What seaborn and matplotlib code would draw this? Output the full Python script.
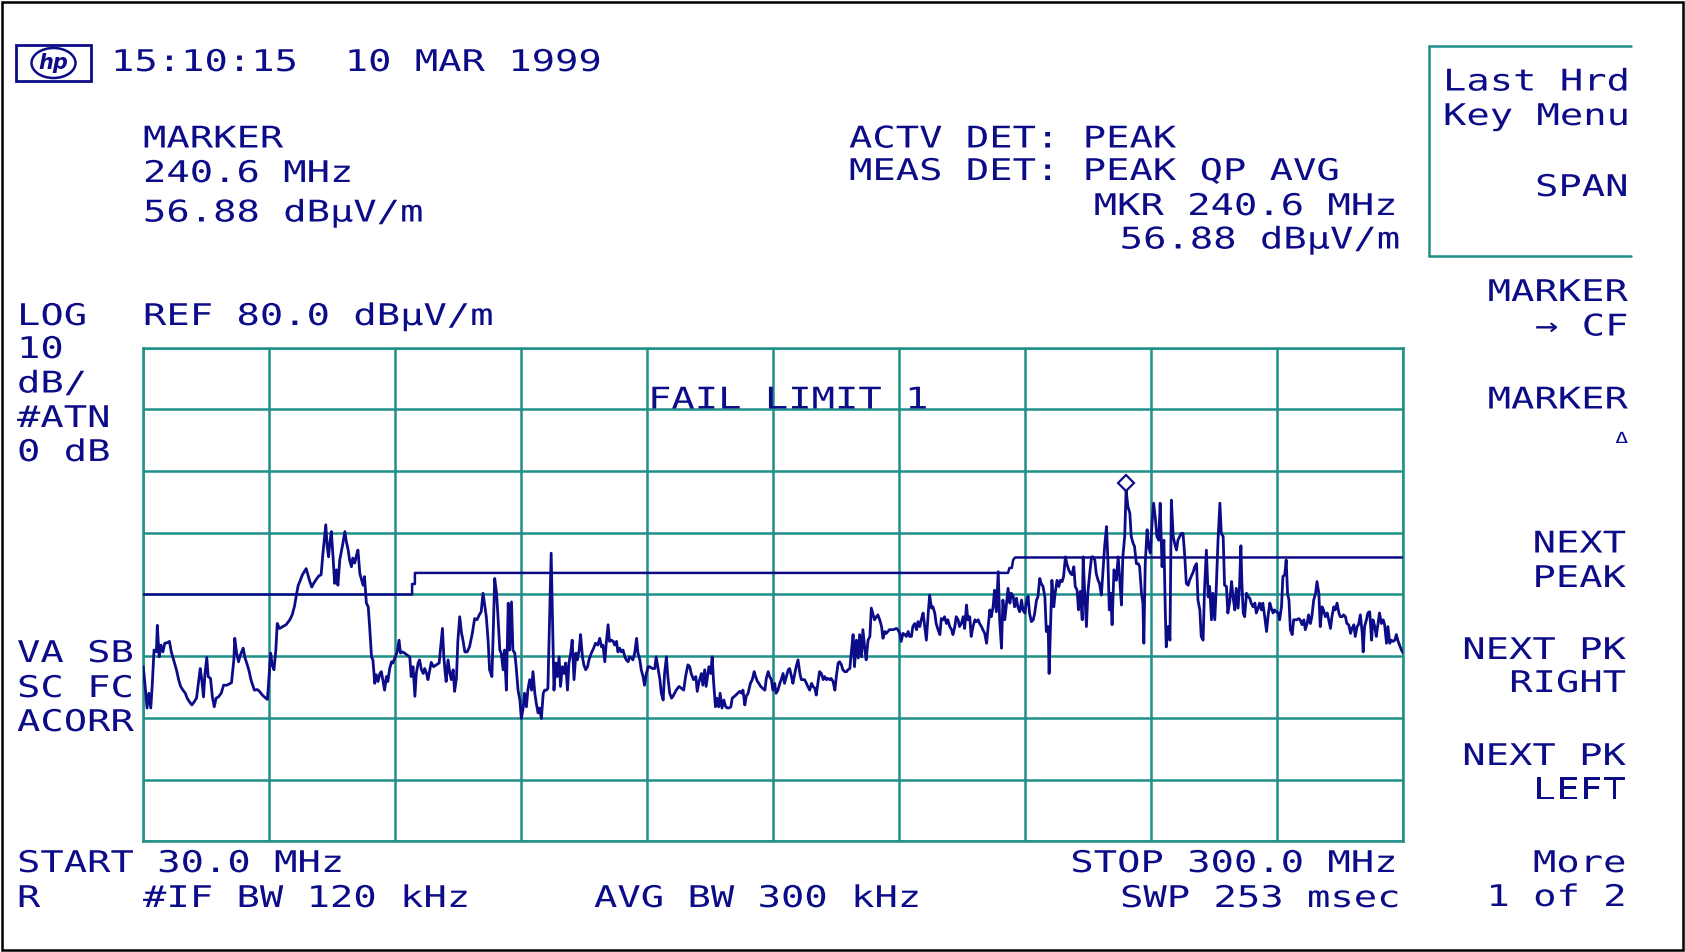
import numpy as np
import pandas as pd
import matplotlib
matplotlib.use("Agg")
import matplotlib.pyplot as plt
import seaborn as sns
from matplotlib.patheffects import AbstractPathEffect
from matplotlib.transforms import Affine2D, offset_copy
from matplotlib.lines import Line2D
from matplotlib.patches import Rectangle, Ellipse

start_mhz, stop_mhz = 30.0, 300.0
ref_level, db_per_div, n_div = 80.0, 10.0, 8

trace_freq = [
    30.0, 30.4, 30.8, 31.2, 31.6, 31.9, 32.3, 32.8, 33.0, 33.4,
    33.8, 34.2, 34.6, 35.2, 35.6, 36.0, 36.5, 37.1, 37.6, 38.0,
    38.5, 39.0, 39.4, 39.9, 40.4, 40.9, 41.4, 41.8, 42.2, 42.5,
    42.9, 43.2, 43.6, 43.9, 44.4, 44.8, 45.2, 45.6, 46.1, 46.7,
    47.2, 47.9, 48.9, 49.4, 49.6, 50.0, 50.4, 50.8, 51.4, 51.8,
    52.2, 52.6, 53.1, 53.8, 54.4, 54.9, 55.5, 56.1, 56.6, 57.0,
    57.3, 57.6, 58.0, 58.4, 58.7, 59.2, 59.9, 60.6, 61.4, 61.9,
    62.4, 62.8, 63.2, 63.6, 64.1, 64.5, 64.9, 65.2, 65.6, 66.1,
    66.5, 67.1, 67.6, 68.1,
    68.5, 69.1, 69.4, 69.7, 70.0, 70.3, 70.7, 71.0, 71.4, 71.7,
    72.1, 72.7, 73.2, 73.5, 73.9, 74.2, 74.6, 74.9, 75.3, 75.7,
    76.0, 76.4, 76.7, 77.1, 77.4, 77.8, 78.2, 78.5, 78.9, 79.2,
    79.6, 79.9, 80.3, 80.7, 81.0, 81.4, 81.7, 82.1, 82.4, 82.8,
    83.2, 83.5, 84.0, 84.4, 84.8, 85.1, 85.5, 86.0, 86.5, 87.1,
    87.4, 87.8, 88.2, 88.5, 88.9, 89.2, 89.6, 90.0, 90.3, 90.7,
    91.0, 91.4, 91.7, 92.2, 92.8, 93.4, 93.7, 94.1, 94.4, 94.7,
    94.9, 95.3, 95.7, 96.0, 96.4, 96.7, 97.1, 97.4, 97.8, 98.2,
    98.5, 98.9, 99.4, 99.9, 100.5, 101.0, 101.5, 102.0, 102.4, 102.8,
    103.2, 103.5, 103.9, 104.2, 104.7, 105.0, 105.3, 105.7, 106.0, 106.4,
    106.7, 107.1, 107.4, 107.8, 108.2, 108.5, 108.9, 109.2, 109.6, 109.9,
    110.3, 110.7, 111.0, 111.4, 111.7, 112.1, 112.4, 112.8, 113.2, 113.5,
    113.9, 114.2, 114.6, 114.9, 115.3, 115.7, 116.0, 116.4, 116.7, 117.1,
    117.4, 117.7, 118.0, 118.4, 118.7, 119.1, 119.4, 119.8, 120.2, 120.5,
    120.9, 121.2, 121.6, 121.9, 122.3, 122.7, 123.0, 123.4, 123.7, 124.1,
    124.4, 124.8, 125.2, 125.5, 126.0, 126.5, 126.9, 127.4, 127.8, 128.2,
    128.5, 128.9, 129.2, 129.6, 129.9, 130.3, 130.7, 131.0, 131.4, 131.7,
    132.1, 132.4, 132.8, 133.2, 133.5, 133.9, 134.2, 134.6, 134.9, 135.3,
    135.7, 136.0, 136.4, 136.7, 137.1, 137.4, 137.8, 138.2, 138.5, 139.1,
    139.6, 139.9, 140.3, 140.7, 141.0, 141.4, 141.7, 142.1, 142.4, 142.8,
    143.2, 143.5, 144.2,
    144.8, 145.3, 145.8, 146.2, 146.7, 147.1, 147.4, 147.9, 148.4, 148.7,
    149.1, 149.6, 149.9, 150.3, 150.6, 151.2, 151.6, 151.9, 152.2, 152.6,
    152.9, 153.3, 153.6, 154.0, 154.4, 154.8, 155.2, 155.5, 155.9, 156.2,
    156.7, 157.4, 157.8, 158.2, 158.5, 158.9, 159.2, 159.6, 160.1, 160.5,
    160.9, 161.2, 161.6, 161.9, 162.3, 162.7, 163.2, 163.5, 163.9, 164.2,
    164.6, 164.9, 165.3, 165.6, 166.0, 166.4, 166.7, 167.1, 167.4, 167.8,
    168.2, 168.5, 168.9, 169.2, 169.6, 169.9, 170.3, 170.7, 171.0, 171.4,
    171.7, 172.1, 172.4, 172.8, 173.2, 173.5, 173.9, 174.2, 174.6, 174.9,
    175.3, 175.7, 176.0, 176.4, 176.7, 177.1, 177.4, 177.8, 178.2, 178.5,
    178.9, 179.2, 179.6, 179.9, 180.3, 180.7, 181.0, 181.4, 181.7, 182.1,
    182.4, 182.8, 183.2, 183.5,
    183.9, 184.2, 184.6, 184.9, 185.3, 185.7, 186.0, 186.4, 186.7, 187.1,
    187.4, 187.8, 188.2, 188.5, 188.9, 189.2, 189.9, 190.7, 191.4, 191.7,
    192.1, 192.4, 192.8, 193.2, 193.5, 193.9, 194.2, 194.6, 194.9, 195.3,
    195.7, 196.0, 196.4, 196.7, 197.1, 197.4, 197.8, 198.2, 198.5, 198.9,
    199.2, 199.6, 199.9, 200.3, 200.7, 201.0, 201.4, 201.7, 202.1, 202.4,
    202.8, 203.2, 203.5, 203.9, 204.2, 204.6, 204.9, 205.3, 205.7, 206.0,
    206.4, 206.7, 207.1, 207.4, 207.8, 208.2, 208.5, 208.9, 209.2, 209.6,
    209.9, 210.3, 210.7, 211.0, 211.4, 211.7, 212.1, 212.4, 212.8, 213.2,
    213.5, 213.9, 214.2, 214.6, 214.9, 215.3, 215.7, 216.0, 216.4, 216.7,
    217.1, 217.4, 217.8, 218.2, 218.5, 218.9, 219.2, 219.6, 219.9, 220.3,
    220.7, 221.0, 221.4, 221.7, 222.1, 222.4, 222.8, 223.2, 223.5, 223.9,
    224.1, 224.4, 224.7, 225.1, 225.4, 225.8, 226.2, 226.5, 226.9, 227.2,
    227.6, 227.9, 228.3, 228.7, 229.0, 229.4, 229.7, 230.1, 230.4, 230.8,
    231.2, 231.4, 231.7, 232.1, 232.4, 232.8, 233.2, 233.5, 233.9, 234.2,
    234.6, 234.9, 235.3, 235.7, 236.0, 236.4, 236.7, 237.0, 237.3, 237.6,
    238.0, 238.3, 238.5, 238.9, 239.2, 239.6, 239.9, 240.3, 240.6, 241.0,
    241.4, 241.7, 242.1, 242.4, 242.8, 243.2, 243.5, 243.9, 244.2, 244.4,
    244.7, 245.1, 245.4, 245.8, 246.2, 246.5, 246.9, 247.2, 247.6, 247.9,
    248.3, 248.7, 249.0, 249.2, 249.6, 250.0, 250.3, 250.7, 251.0, 251.4,
    251.7, 252.1, 252.4, 252.8, 253.2, 253.5, 253.9, 254.2, 255.0, 255.3,
    255.7, 256.0, 256.4, 256.7, 257.1, 257.4, 257.8, 258.2, 258.5, 258.9,
    259.2, 259.6, 259.9, 260.3, 260.7,
    261.0, 261.4, 261.7, 262.1, 262.4, 262.8, 263.2, 263.5, 263.9, 264.2,
    264.6, 264.9, 265.2, 265.4, 265.7, 266.0, 266.4, 266.7, 267.1, 267.4,
    267.8, 268.2, 268.5, 268.9, 269.2, 269.6, 269.9, 270.3, 270.7, 271.0,
    271.4, 271.7, 272.1, 272.4, 272.8, 273.2, 273.5, 273.9, 274.2, 274.6,
    274.9, 275.2, 275.5, 275.8, 276.2, 276.5, 276.9, 277.2, 277.6, 277.9,
    278.3, 278.7, 279.0, 279.4, 279.7, 280.1, 280.4, 280.8, 281.2, 281.5,
    281.9, 282.2, 282.6, 282.9, 283.3, 283.7, 284.0, 284.4, 284.7, 285.1,
    285.4, 285.8, 286.2, 286.5, 286.9, 287.2, 287.6, 287.9, 288.3, 288.7,
    289.0, 289.4, 289.7, 290.1, 290.4, 290.8, 291.2, 291.4, 291.7, 292.1,
    292.4, 292.8, 293.2, 293.5, 293.9, 294.2, 294.6, 294.9, 295.3, 295.7,
    296.0, 296.4, 296.7, 297.1, 297.4, 297.8, 298.2, 298.5, 298.9, 299.2,
    299.6, 300.0,
]

trace_level = [
    28.3, 25.1, 21.6, 24.0, 21.6, 25.1, 31.0, 30.7, 35.0, 29.9,
    31.8, 30.7, 32.1, 32.2, 32.4, 30.7, 29.4, 27.8, 26.1, 25.1,
    24.5, 24.0, 23.2, 22.6, 22.1, 22.6, 23.2, 25.6, 28.0, 26.4,
    23.4, 27.0, 29.8, 26.7, 26.4, 23.4, 21.8, 23.2, 23.4, 24.0,
    25.3, 25.3, 25.7, 29.4, 32.9, 30.5, 29.1, 30.2, 31.3, 29.7,
    28.8, 27.8, 26.1, 24.5, 24.6, 24.3, 23.7, 23.3, 23.0, 27.2,
    30.5, 28.6, 27.8, 31.0, 35.3, 34.5, 34.8, 35.1, 35.9, 36.7,
    38.1, 39.9, 41.5, 42.2, 43.2, 43.7, 44.2, 43.4, 42.3, 41.2,
    41.8, 42.5, 43.0, 43.2,
    46.7, 51.3, 47.8, 46.1, 48.6, 50.2, 45.6, 41.8, 44.0, 41.5,
    45.6, 48.0, 50.2, 48.6, 47.2, 45.6, 44.5, 45.9, 45.1, 46.4,
    47.2, 43.4, 42.6, 41.5, 42.9, 38.6, 38.0, 34.8, 29.9, 29.4,
    25.6, 27.0, 25.9, 27.2, 27.5, 25.9, 24.5, 26.7, 25.9, 28.0,
    29.1, 28.9, 29.9, 30.7, 32.6, 30.5, 30.7, 30.5, 30.2, 29.9,
    26.7, 28.3, 23.5, 27.2, 28.9, 29.4, 27.8, 27.2, 28.0, 27.2,
    26.2, 27.8, 29.0, 28.3, 28.6, 28.9, 31.3, 34.5, 29.9, 27.2,
    25.9, 29.4, 27.2, 26.2, 27.8, 24.3, 26.4, 32.4, 36.4, 33.7,
    32.6, 30.7, 30.7, 31.5, 33.7, 36.1, 35.9, 36.7, 37.2, 40.2,
    38.0, 36.4, 32.4, 27.8, 26.7, 34.3, 42.6, 40.2, 36.4, 31.0,
    30.5, 27.8, 31.0, 24.5, 38.6, 31.0, 38.8, 31.0, 30.5, 28.3,
    24.5, 22.9, 19.9, 21.6, 24.0, 21.8, 24.5, 26.2, 24.5, 27.5,
    24.0, 22.4, 20.8, 21.6, 19.9, 24.0, 24.5, 24.5, 24.8, 37.0,
    46.7, 35.3, 24.5, 28.9, 26.7, 29.9, 25.1, 28.3, 27.2, 28.9,
    24.5, 28.9, 30.5, 32.6, 26.2, 30.5, 29.4, 31.0, 33.5, 29.9,
    28.6, 27.8, 28.3, 29.4, 30.5, 31.3, 32.1, 31.8, 32.9, 31.5,
    31.8, 29.1, 32.1, 35.1, 32.4, 32.6, 32.4, 31.8, 32.4, 30.7,
    31.3, 30.7, 31.0, 29.9, 29.4, 29.1, 29.9, 29.7, 29.4, 30.5,
    32.9, 30.5, 29.4, 27.8, 26.7, 25.3, 27.2, 28.3, 28.3, 28.0,
    28.0, 29.9, 28.0, 26.2, 24.0, 22.9, 27.2, 29.9, 26.7, 24.0,
    23.2, 23.5, 24.5,
    25.1, 24.8, 24.5, 26.7, 28.6, 28.3, 27.2, 26.2, 26.7, 24.3,
    25.9, 27.2, 25.3, 27.8, 25.1, 28.3, 27.2, 29.9, 25.9, 21.8,
    23.2, 21.8, 24.0, 21.6, 22.9, 21.8, 21.6, 21.6, 21.8, 23.2,
    23.5, 24.0, 24.3, 24.0, 24.5, 22.1, 23.5, 24.0, 25.6, 26.2,
    27.5, 26.7, 25.9, 25.6, 25.1, 24.8, 24.5, 26.4, 27.5, 26.7,
    26.2, 24.5, 25.6, 24.0, 24.5, 25.6, 26.2, 27.2, 25.6, 26.7,
    27.8, 28.0, 26.7, 25.6, 27.2, 28.3, 29.4, 27.2, 26.2, 26.2,
    26.2, 25.6, 25.1, 24.5, 25.6, 25.1, 24.8, 23.7, 25.9, 27.5,
    27.2, 26.2, 26.7, 26.2, 26.4, 26.2, 26.4, 25.9, 24.5, 26.7,
    28.9, 29.1, 28.6, 27.8, 27.5, 27.5, 27.8, 28.0, 30.5, 33.5,
    28.3, 32.6, 29.7, 33.5,
    29.9, 34.3, 31.3, 29.4, 32.6, 33.2, 37.8, 36.7, 35.9, 36.4,
    36.7, 35.9, 34.8, 32.9, 34.0, 33.7, 34.3, 34.3, 34.5, 34.3,
    33.7, 32.4, 33.7, 33.5, 33.2, 34.0, 33.2, 33.2, 34.8, 35.3,
    34.3, 35.6, 34.8, 35.9, 37.0, 35.1, 32.6, 37.0, 39.9, 37.8,
    38.0, 37.0, 35.3, 34.3, 33.5, 36.1, 35.9, 36.4, 35.3, 35.9,
    34.8, 34.3, 33.5, 34.8, 36.4, 35.9, 34.8, 35.3, 36.4, 34.5,
    38.3, 35.9, 36.4, 33.2, 34.8, 35.9, 35.6, 35.9, 35.3, 34.8,
    34.3, 33.7, 32.1, 34.5, 37.5, 36.4, 38.0, 40.7, 37.2, 43.7,
    35.9, 31.3, 39.1, 35.9, 38.0, 41.0, 38.6, 40.2, 39.7, 38.0,
    39.4, 38.0, 37.2, 39.1, 37.5, 37.0, 38.6, 39.7, 37.0, 35.6,
    35.9, 36.9, 39.1, 39.6, 42.6, 41.8, 41.3, 39.6, 34.0, 34.8,
    27.2, 34.8, 42.3, 38.0, 40.2, 42.3, 41.3, 42.3, 42.1, 42.9,
    46.1, 45.0, 44.0, 43.4, 43.2, 44.5, 41.3, 40.7, 37.5, 40.5,
    35.9, 46.1, 40.7, 34.8, 40.2, 43.4, 46.1, 46.1, 45.6, 43.4,
    42.3, 41.8, 39.9, 44.5, 47.8, 51.0, 45.6, 37.5, 40.2, 35.1,
    44.0, 43.4, 42.3, 46.1, 42.9, 38.3, 46.1, 49.4, 56.9, 54.2,
    53.2, 49.4, 48.3, 47.8, 45.0, 45.0, 44.5, 40.2, 38.6, 32.1,
    45.0, 50.5, 47.8, 46.7, 52.1, 54.8, 52.1, 49.4, 48.8, 54.8,
    44.5, 48.8, 37.2, 31.5, 34.8, 32.6, 55.3, 49.4, 48.3, 47.2,
    48.8, 49.4, 49.9, 49.9, 45.9, 41.8, 41.5, 42.3, 43.7, 44.5,
    45.0, 39.1, 37.5, 33.2, 32.6, 40.7, 47.2, 39.6, 41.3, 35.9,
    40.2, 35.9, 40.7, 48.8, 54.8,
    49.9, 49.4, 41.5, 41.3, 37.0, 38.8, 42.1, 39.7, 37.5, 41.0,
    37.8, 41.3, 47.9, 42.1, 37.0, 36.4, 40.2, 39.7, 39.4, 38.6,
    38.0, 38.6, 37.0, 37.8, 38.6, 37.5, 38.6, 36.4, 34.0, 36.4,
    38.6, 37.8, 37.0, 37.5, 37.2, 37.0, 35.9, 38.0, 42.9, 43.2,
    45.6, 40.2, 39.1, 34.3, 33.5, 35.9, 35.9, 35.9, 36.1, 35.9,
    35.1, 35.9, 34.3, 35.3, 36.7, 35.3, 36.4, 39.1, 40.2, 42.1,
    40.2, 34.8, 38.0, 37.5, 36.4, 37.0, 35.9, 34.5, 36.4, 38.0,
    37.5, 38.6, 37.0, 36.4, 36.4, 36.7, 36.4, 35.3, 35.1, 33.7,
    34.5, 35.1, 33.2, 34.8, 35.1, 36.7, 33.7, 30.7, 34.8, 35.9,
    37.0, 37.2, 32.6, 35.9, 34.8, 33.2, 35.3, 37.0, 35.3, 35.9,
    35.1, 32.1, 34.8, 32.1, 32.6, 32.4, 32.6, 33.5, 32.4, 31.8,
    31.0, 30.5,
]

limit_freq = [30.0, 87.6, 87.6, 88.2, 88.2, 215.3, 215.6, 216.1, 216.4, 216.8, 300.0]
limit_level = [40.0, 40.0, 41.7, 41.7, 43.5, 43.5, 44.3, 44.3, 45.6, 46.0, 46.0]

marker_freq = [240.6]
marker_level = [56.88]

# ---------------- styling ----------------
sns.set_style("white")
plt.rcParams['font.family'] = ['DejaVu Sans Mono', 'DejaVu Sans']

W, H = 1685, 952
NAVY = '#0c0c88'
TEAL = '#1f9088'
FS = 21.5
SX = 1.30


class HStretch(AbstractPathEffect):
    """Widen glyphs horizontally (the analyser's wide character cell)."""
    def __init__(self, sx, anchor='left'):
        super().__init__()
        self.sx = sx
        self.anchor = anchor

    def draw_path(self, renderer, gc, tpath, affine, rgbFace=None):
        x0 = tpath.get_extents().x1 if self.anchor == 'right' else 0.0
        t = Affine2D().translate(-x0, 0).scale(self.sx, 1.0).translate(x0, 0)
        renderer.draw_path(gc, tpath, t + affine, rgbFace)


fig = plt.figure(figsize=(W / 100, H / 100), dpi=100)
fig.patch.set_facecolor('white')

# plot area
ax = fig.add_axes([143.3 / W, 1 - 841.3 / H, 1260 / W, 493.6 / H])
ax.set_facecolor('white')
trace_df = pd.DataFrame({'freq': trace_freq, 'level': trace_level})
limit_df = pd.DataFrame({'freq': limit_freq, 'level': limit_level})
sns.lineplot(data=limit_df, x='freq', y='level', ax=ax, color=NAVY, lw=1.8,
             sort=False, estimator=None, zorder=3)
sns.lineplot(data=trace_df, x='freq', y='level', ax=ax, color=NAVY, lw=2.0,
             sort=False, estimator=None, zorder=4)
mk_tr = offset_copy(ax.transData, fig=fig, x=0, y=7.5, units='dots')
ax.plot(marker_freq, marker_level, linestyle='none', marker='D', markersize=8,
        markerfacecolor='white', markeredgecolor=NAVY, markeredgewidth=1.6,
        transform=mk_tr, zorder=5, clip_on=False)

ax.set_xlim(start_mhz, stop_mhz)
ax.set_ylim(ref_level - n_div * db_per_div, ref_level)
ax.set_xticks(np.linspace(start_mhz, stop_mhz, 11))
ax.set_yticks(np.arange(ref_level - n_div * db_per_div, ref_level + 1, db_per_div))
ax.grid(True, color=TEAL, lw=1.8)
ax.set_axisbelow(True)
ax.tick_params(length=0, labelbottom=False, labelleft=False)
ax.set_xlabel('')
ax.set_ylabel('')
for sp in ax.spines.values():
    sp.set_color(TEAL)
    sp.set_linewidth(1.8)


def txt(x, y, s, anchor='left', size=FS, sx=SX):
    fig.text(x / W, 1 - y / H, s, ha=anchor, va='baseline', fontsize=size,
             color=NAVY, family=['DejaVu Sans Mono', 'DejaVu Sans'],
             path_effects=[HStretch(sx, anchor)])


left_texts = [
    (111, 71, "15:10:15  10 MAR 1999"),
    (143, 147.5, "MARKER"),
    (143, 182, "240.6 MHz"),
    (143, 221.5, "56.88 dBμV/m"),
    (849, 147.5, "ACTV DET: PEAK"),
    (849, 180, "MEAS DET: PEAK QP AVG"),
    (1443, 90.5, "Last Hrd"),
    (1443, 125, "Key Menu"),
    (17, 325, "LOG"),
    (17, 358, "10"),
    (17, 392.5, "dB/"),
    (17, 427, "#ATN"),
    (17, 461, "0 dB"),
    (143, 325, "REF 80.0 dBμV/m"),
    (17, 662, "VA SB"),
    (17, 697, "SC FC"),
    (17, 731, "ACORR"),
    (17, 872, "START 30.0 MHz"),
    (17, 907, "R"),
    (143, 907, "#IF BW 120 kHz"),
    (594, 907, "AVG BW 300 kHz"),
    (648, 408.5, "FAIL LIMIT 1"),
]
right_texts = [
    (1397, 215, "MKR 240.6 MHz"),
    (1400, 248.5, "56.88 dBμV/m"),
    (1628, 196, "SPAN"),
    (1628, 301, "MARKER"),
    (1628, 335.5, "→ CF"),
    (1628, 408.5, "MARKER"),
    (1626, 552.5, "NEXT"),
    (1626, 587, "PEAK"),
    (1626, 659, "NEXT PK"),
    (1626, 692, "RIGHT"),
    (1626, 765, "NEXT PK"),
    (1626, 799, "LEFT"),
    (1626, 872, "More"),
    (1626, 906, "1 of 2"),
    (1397, 872, "STOP 300.0 MHz"),
    (1400, 907, "SWP 253 msec"),
]
for x, y, s in left_texts:
    txt(x, y, s, 'left')
for x, y, s in right_texts:
    txt(x, y, s, 'right')
txt(1628, 443, "Δ", 'right', size=11, sx=1.4)

# hp logo
fig.add_artist(Rectangle((16 / W, 1 - 81 / H), 75 / W, 36 / H, transform=fig.transFigure,
                         fill=False, edgecolor=NAVY, lw=2.0))
fig.add_artist(Ellipse((53.5 / W, 1 - 63 / H), 44 / W, 30 / H, transform=fig.transFigure,
                       fill=False, edgecolor=NAVY, lw=1.8))
fig.text(53.5 / W, 1 - 63 / H, "hp", ha='center', va='center', fontsize=15,
         style='italic', weight='bold', color=NAVY, family=['DejaVu Sans'])

# softkey title box
for (x0, y0, x1, y1) in [(1429, 46, 1429, 256), (1429, 46, 1631, 46), (1429, 256, 1631, 256)]:
    fig.add_artist(Line2D([x0 / W, x1 / W], [1 - y0 / H, 1 - y1 / H],
                          transform=fig.transFigure, color=TEAL, lw=1.8))

# outer frame
fig.add_artist(Rectangle((2 / W, 2 / H), (W - 4) / W, (H - 4) / H, transform=fig.transFigure,
                         fill=False, edgecolor='black', lw=1.8))

fig.savefig("out.png", dpi=100, facecolor='white')
